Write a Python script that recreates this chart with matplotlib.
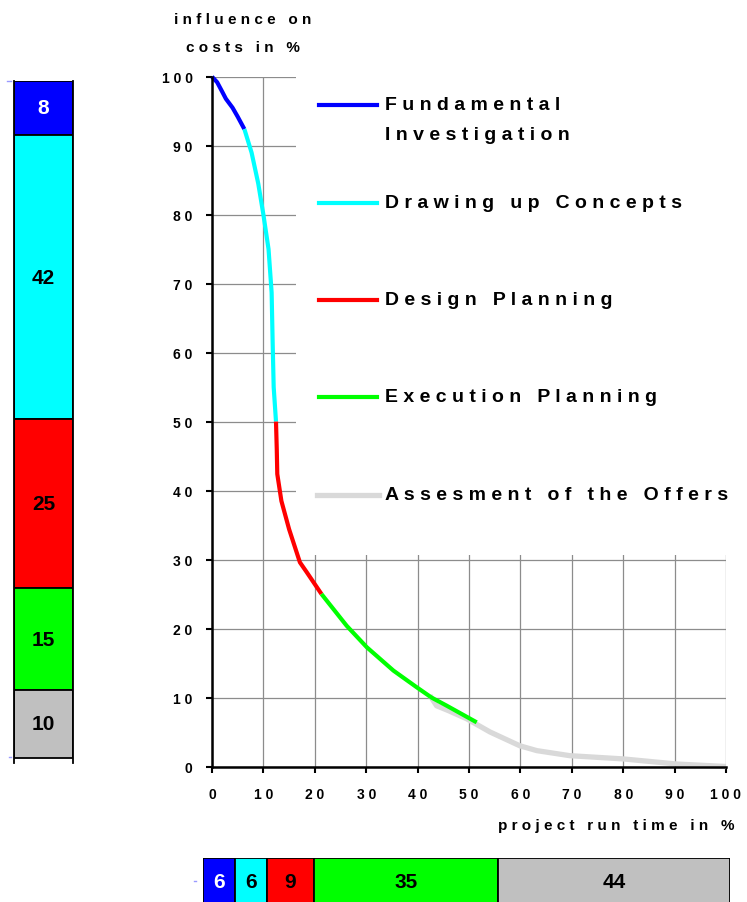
import matplotlib
matplotlib.use("Agg")
import matplotlib.pyplot as plt
from matplotlib.patches import Rectangle

plt.rcParams['font.family'] = ['Liberation Sans', 'DejaVu Sans']
plt.rcParams['font.weight'] = 'bold'

# ---------------- data ----------------
phases = ["Fundamental Investigation", "Drawing up Concepts", "Design Planning",
          "Execution Planning", "Assesment of the Offers"]
line_colors = ["#0000ff", "#00ffff", "#ff0000", "#00ff00", "#d9d9d9"]
bar_colors = ["#0000ff", "#00ffff", "#ff0000", "#00ff00", "#c0c0c0"]
cost_shares = [8, 42, 25, 15, 10]      # left stacked bar (influence on costs)
time_shares = [6, 6, 9, 35, 44]        # bottom stacked bar (project run time)

fund_x = [0, 1.0, 2.0, 2.7, 4.0, 5.0, 6.3]
fund_y = [100, 99.2, 97.8, 96.8, 95.5, 94.2, 92.4]
conc_x = [6.3, 7.7, 9.0, 10.0, 11.0, 11.6, 11.8, 12.0, 12.45]
conc_y = [92.4, 89.0, 84.5, 80.0, 75.0, 68.7, 61.5, 55.0, 50.0]
design_x = [12.45, 12.6, 12.7, 13.5, 15.0, 17.1, 18.4, 21.3]
design_y = [50.0, 46.0, 42.4, 38.5, 34.4, 29.6, 28.2, 25.0]
exec_x = [21.3, 26.2, 30.1, 35.3, 39.8, 42.7, 45.7, 51.5]
exec_y = [25.0, 20.4, 17.3, 13.9, 11.5, 10.0, 8.8, 6.4]
offer_x = [42.4, 43.7, 46.0, 49.6, 54.1, 59.9, 63.2, 69.6, 80.0, 90.4, 100]
offer_y = [10.3, 8.8, 8.1, 6.9, 5.0, 3.0, 2.3, 1.57, 1.1, 0.36, 0.0]

tick_values = list(range(0, 101, 10))
x_label = "project run time in %"
y_label = "influence on\ncosts in %"


def spaced(s, gap=3):
    return "\n".join((" " * gap).join(" ".join(w) for w in line.split(" "))
                     for line in s.split("\n"))


W, H = 747, 903
fig = plt.figure(figsize=(W / 100, H / 100), dpi=100)


def fx(px):
    return px / W


def fy(py):
    return 1 - py / H


# ---------------- main chart ----------------
x0, x1, ytop, ybot = 212, 726, 77.7, 767.5
ax = fig.add_axes([fx(x0), fy(ybot), (x1 - x0) / W, (ybot - ytop) / H])
ax.set_xlim(0, 100)
ax.set_ylim(0, 100)
ax.set_axisbelow(True)
ax.grid(True, color="#8c8c8c", lw=0.9)
ax.add_patch(Rectangle((16.4, 30.7), 90, 75, facecolor="white",
                       edgecolor="none", zorder=1, clip_on=False))
for s in ["top", "right"]:
    ax.spines[s].set_visible(False)
for s in ["left", "bottom"]:
    ax.spines[s].set_linewidth(1.8)
    ax.spines[s].set_zorder(5)
ax.set_xticks(tick_values)
ax.set_yticks(tick_values)
ax.set_xticklabels([spaced(str(v)) for v in tick_values])
ax.set_yticklabels([spaced(str(v)) for v in tick_values])
ax.tick_params(axis="both", direction="out", length=4, width=1.5,
               labelsize=10)
ax.tick_params(axis="x", pad=11)
ax.tick_params(axis="y", pad=10)

curves = [(fund_x, fund_y), (conc_x, conc_y), (design_x, design_y),
          (exec_x, exec_y), (offer_x, offer_y)]
widths = [3.0, 3.0, 3.0, 3.0, 3.8]
zorders = [3, 3, 3, 3, 2.5]
for (cx, cy), c, lw, z in zip(curves, line_colors, widths, zorders):
    ax.plot(cx, cy, color=c, lw=lw, zorder=z, clip_on=False,
            solid_capstyle="butt")

# legend (manual)
leg_y = [106, 204, 301, 398, 496]
for i, (name, c, yy) in enumerate(zip(phases, line_colors, leg_y)):
    lx0, lx1 = (317, 379) if i == 4 else (319, 377)
    fig.add_artist(plt.Line2D([fx(lx0), fx(lx1)], [fy(yy), fy(yy)],
                              color=c, lw=widths[i]))
    label = name.replace("Fundamental ", "Fundamental\n")
    if "\n" in label:
        fig.text(fx(385), fy(120.5), spaced(label), fontsize=14,
                 fontweight="bold", ha="left", va="center", linespacing=1.95)
    else:
        fig.text(fx(385), fy(yy), spaced(label), fontsize=14,
                 fontweight="bold", ha="left", va="center")

fig.text(fx(243), fy(34), spaced(y_label), fontsize=11, fontweight="bold",
         ha="center", va="center", linespacing=2.3)
fig.text(fx(735), fy(826), spaced(x_label), fontsize=11, fontweight="bold",
         ha="right", va="center")

# ---------------- left stacked bar ----------------
bl, br, bt, bb = 14.3, 72.7, 81.7, 758.7
axl = fig.add_axes([fx(bl), fy(764), (br - bl) / W, (764 - bt) / H])
axl.set_xlim(0, 1)
axl.set_ylim(100 * (764 - bt) / (bb - bt), 0)
bottom = 0
for v, c in zip(cost_shares, bar_colors):
    axl.bar(0.5, v, bottom=bottom, width=1.0, color=c, edgecolor="black",
            lw=1.3, zorder=2)
    axl.text(0.5, bottom + v / 2, str(v), ha="center", va="center",
             fontsize=15, fontweight="bold",
             color="white" if c == "#0000ff" else "black", zorder=3)
    bottom += v
for s in ["top", "bottom"]:
    axl.spines[s].set_visible(False)
for s in ["left", "right"]:
    axl.spines[s].set_linewidth(1.3)
axl.set_xticks([])
axl.set_yticks([])

# ---------------- bottom stacked bar ----------------
hl, hr, ht = 203.3, 730, 859
axb = fig.add_axes([fx(hl), fy(920), (hr - hl) / W, (920 - ht) / H])
axb.set_xlim(0, 100)
axb.set_ylim(0, 1)
left = 0
for v, c in zip(time_shares, bar_colors):
    axb.barh(0.5, v, left=left, height=1.0, color=c, edgecolor="black",
             lw=1.3, zorder=2)
    axb.text(left + v / 2, 1 - (883 - ht) / (920 - ht), str(v), ha="center",
             va="center", fontsize=15, fontweight="bold",
             color="white" if c == "#0000ff" else "black", zorder=3)
    left += v
for s in axb.spines.values():
    s.set_visible(False)
axb.set_xticks([])
axb.set_yticks([])

# small stray marks of the original
for (a, b, c, d) in [(7, 82, 11, 82), (9, 758, 11, 758), (194, 882, 196, 882)]:
    fig.add_artist(plt.Line2D([fx(a), fx(c)], [fy(b), fy(d)],
                              color="#9a9aff", lw=1))

fig.savefig("out.png", dpi=100)
